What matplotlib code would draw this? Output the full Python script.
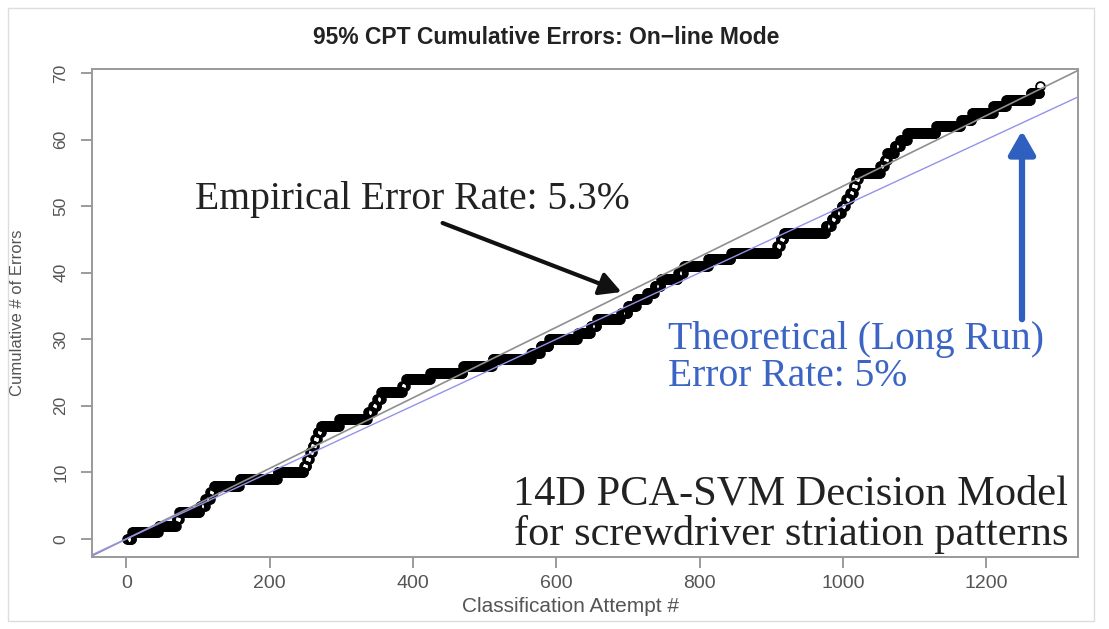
import numpy as np
import matplotlib
matplotlib.use("Agg")
import matplotlib.pyplot as plt

# attempt number at which each new error happened
error_attempts = [8, 45, 70, 74, 103, 110, 117, 122, 158, 211,
                  248, 252, 256, 260, 263, 267, 272, 297, 337, 344,
                  350, 356, 385, 390, 424, 470, 511, 565, 578, 590,
                  630, 648, 657, 690, 700, 712, 727, 737, 746, 770,
                  778, 812, 844, 908, 913, 918, 976, 984, 990, 998,
                  1004, 1010, 1015, 1018, 1022, 1052, 1058, 1062, 1072, 1080,
                  1090, 1130, 1165, 1180, 1210, 1228, 1262, 1275]
n_attempts = 1275
empirical_rate = 0.053
theoretical_rate = 0.05

x_ticks = [0, 200, 400, 600, 800, 1000, 1200]
y_ticks = [0, 10, 20, 30, 40, 50, 60, 70]

attempts = np.arange(1, n_attempts + 1)
cum_errors = np.searchsorted(np.array(error_attempts), attempts, side="right")

W, H = 1109, 629
fig = plt.figure(figsize=(W / 100, H / 100), dpi=100)
ax = fig.add_axes([92 / W, 1 - 557 / H, (1078 - 92) / W, (557 - 69) / H])

def fx(px):
    return px / W

def fy(py):
    return 1 - py / H

ax.plot(attempts, cum_errors, linestyle="none", marker="o", ms=6.3,
        mfc="none", mec="black", mew=1.3, zorder=2)
ax.axline((0, 0), slope=empirical_rate, color="#8f8f8f", lw=1.2, zorder=3)
ax.axline((0, 0), slope=theoretical_rate, color="#9393ea", lw=1.0, zorder=3)

ax.set_xlim(-48, 1328)
ax.set_ylim(-2.72, 70.6)
ax.set_xticks(x_ticks)
ax.set_yticks(y_ticks)
ax.tick_params(colors="#8a8a8a", labelcolor="#555555", length=8, width=1.2)
ax.tick_params(axis="x", labelsize=14, pad=5)
ax.tick_params(axis="y", labelsize=12.5, pad=9)
for lab in ax.get_yticklabels():
    lab.set_rotation(90)
    lab.set_va("center")
for sp in ax.spines.values():
    sp.set_color("#9a9a9a")
    sp.set_linewidth(1.4)

sans = ["Liberation Sans", "DejaVu Sans"]
serif = ["Liberation Serif", "DejaVu Serif"]
for lab in ax.get_xticklabels() + ax.get_yticklabels():
    lab.set_family(sans)

fig.text(fx(546), fy(38), "95% CPT Cumulative Errors: On\u2212line Mode",
         ha="center", va="center", fontsize=16.5, fontweight="bold",
         family=sans, color="#222222")
fig.text(fx(570), fy(607), "Classification Attempt #", ha="center",
         va="center", fontsize=15, family=sans, color="#555555")
fig.text(fx(18), fy(313), "Cumulative # of Errors", ha="center", va="center",
         rotation=90, fontsize=12, family=sans, color="#555555")

fig.text(fx(195), fy(200), "Empirical Error Rate: 5.3%", ha="left",
         va="center", fontsize=28.5, family=serif, color="#222222")
fig.text(fx(668), fy(340), "Theoretical (Long Run)", ha="left",
         va="center", fontsize=28.5, family=serif, color="#3b64c4")
fig.text(fx(668), fy(377), "Error Rate: 5%", ha="left",
         va="center", fontsize=28.5, family=serif, color="#3b64c4")
fig.text(fx(1068), fy(494), "14D PCA-SVM Decision Model", ha="right",
         va="center", fontsize=30.5, family=serif, color="#222222")
fig.text(fx(1068), fy(534), "for screwdriver striation patterns", ha="right",
         va="center", fontsize=30.5, family=serif, color="#222222")

# arrows pointing at the two lines
fig.add_artist(matplotlib.patches.FancyArrowPatch(
    (fx(440), fy(222)), (fx(624), fy(293)), transform=fig.transFigure,
    arrowstyle="-|>,head_length=13,head_width=7", lw=3, color="#111111"))
fig.add_artist(matplotlib.patches.FancyArrowPatch(
    (fx(1022), fy(322)), (fx(1022), fy(128)), transform=fig.transFigure,
    arrowstyle="-|>,head_length=14,head_width=8", lw=4.5, color="#2f5fbf"))

# faint frame around the screenshot
fig.add_artist(plt.Rectangle((fx(8), fy(621)), fx(1094) - fx(8), fy(8) - fy(621),
                             transform=fig.transFigure, fill=False,
                             ec="#dddddd", lw=1))

fig.savefig("out.png", dpi=100)
